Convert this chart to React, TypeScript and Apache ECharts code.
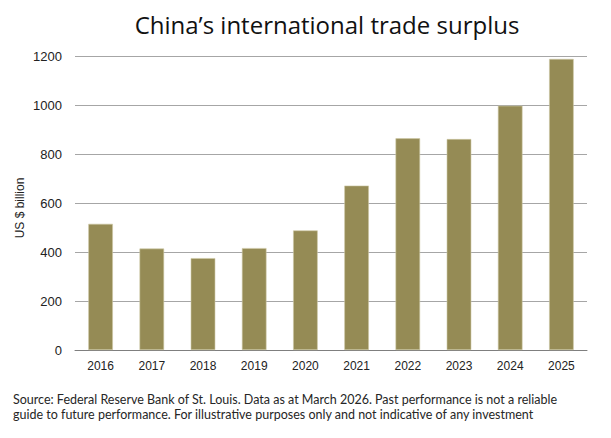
import React, { useEffect, useRef } from "react";
import * as echarts from "echarts";

const years = ["2016", "2017", "2018", "2019", "2020", "2021", "2022", "2023", "2024", "2025"];
const surplus = [515, 414, 375, 416, 488, 671, 864, 861, 997, 1188];
const titleText = "China\u2019s international trade surplus";
const yAxisName = "US $ billion";
const footnote1 = "Source: Federal Reserve Bank of St. Louis. Data as at March 2026. Past performance is not a reliable";
const footnote2 = "guide to future performance. For illustrative purposes only and not indicative of any investment";

export default function App() {
  const ref = useRef<HTMLDivElement>(null);
  useEffect(() => {
    const chart = echarts.init(ref.current!, undefined, { renderer: "svg" });
    chart.setOption({
      animation: false,
      backgroundColor: "#ffffff",
      grid: { left: 75, right: 24, top: 56, bottom: 88, containLabel: false },
      xAxis: {
        type: "category",
        data: years,
        axisLine: { show: true, lineStyle: { color: "#7f7f7f", width: 1 } },
        axisTick: { show: false },
        axisLabel: { color: "#222222", fontFamily: "Liberation Sans", fontSize: 12, margin: 10 },
      },
      yAxis: {
        type: "value",
        min: 0,
        max: 1200,
        interval: 200,
        axisLine: { show: false },
        axisTick: { show: false },
        axisLabel: {
          color: "#222222",
          fontFamily: "Liberation Sans",
          fontSize: 13,
          margin: 13,
          formatter: (v: number) => String(v),
        },
        splitLine: { lineStyle: { color: "#a6a6a6", width: 1 } },
      },
      series: [
        {
          type: "bar",
          data: surplus,
          barWidth: "48%",
          itemStyle: { color: "#958b55", borderColor: "#cfc9a6", borderWidth: 0.6 },
        },
      ],
      graphic: [
        {
          type: "text",
          x: 327,
          y: 24,
          style: {
            text: titleText,
            fontFamily: "Open Sans",
            fontSize: 24,
            fill: "#111111",
            textAlign: "center",
            textVerticalAlign: "middle",
          },
        },
        {
          type: "text",
          x: 20,
          y: 208,
          rotation: Math.PI / 2,
          style: {
            text: yAxisName,
            fontFamily: "Liberation Sans",
            fontSize: 12,
            fill: "#222222",
            textAlign: "center",
            textVerticalAlign: "middle",
          },
        },
        {
          type: "text",
          left: 13,
          top: 393,
          style: { text: footnote1, fontFamily: "Lato", fontSize: 12.5, fill: "#262626" },
        },
        {
          type: "text",
          left: 13,
          top: 408,
          style: { text: footnote2, fontFamily: "Lato", fontSize: 12.5, fill: "#262626" },
        },
      ],
    });
    return () => chart.dispose();
  }, []);
  return <div ref={ref} style={{ position: "fixed", left: 0, top: 0, width: 611, height: 438 }} />;
}
